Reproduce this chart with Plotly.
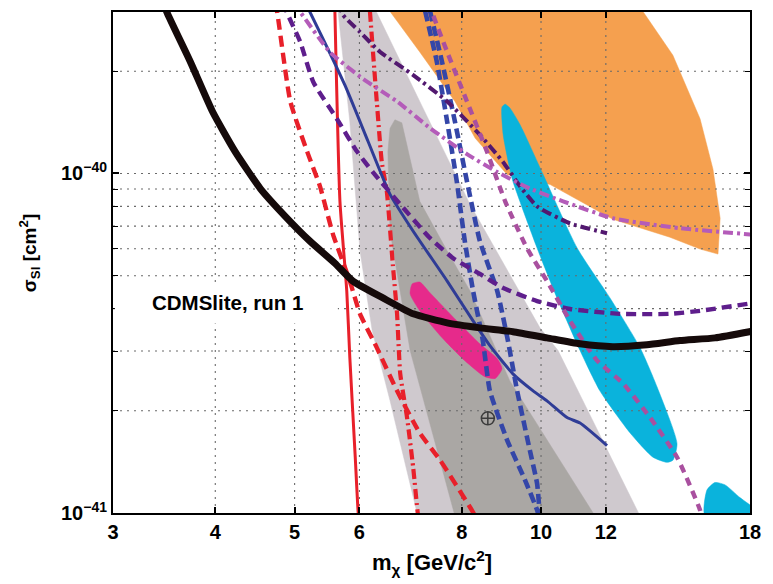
import numpy as np
import plotly.graph_objects as go

FONT = "Liberation Sans"

# ---------------- axis ticks ----------------
x_tickvals = [3, 4, 5, 6, 8, 10, 12, 18]
x_ticktext = ["3", "4", "5", "6", "8", "10", "12", "18"]
x_gridvals = [4, 5, 6, 8, 10, 12]
y_tickvals = [1e-41, 1e-40]
y_ticktext = ["10<sup>\u221241</sup>", "10<sup>\u221240</sup>"]
y_minorvals = [2e-41, 3e-41, 4e-41, 5e-41, 6e-41, 7e-41, 8e-41, 9e-41, 2e-40]
y_gridvals = [2e-41, 3e-41, 4e-41, 5e-41, 6e-41, 7e-41, 8e-41, 9e-41, 1e-40, 2e-40]
x_range = [3, 18]
y_range = [1e-41, 2.99e-40]

# ---------------- regions (mass GeV/c^2, sigma cm^2) ----------------
si95_m = [5.65, 6.29, 7.11, 8.19, 9.97, 10.49, 13.21, 7.07, 6.54, 6.22, 6.01, 5.84, 5.65]
si95_s = [30e-41, 30e-41, 16.3e-41, 8.11e-41, 3.51e-41, 3.01e-41, 0.98e-41, 0.98e-41,
          2.14e-41, 3.44e-41, 5.91e-41, 14.2e-41, 30e-41]

si68_m = [6.63, 6.76, 7.11, 7.68, 8.19, 9.16, 11.64, 7.85, 6.92, 6.54, 6.50, 6.54, 6.63]
si68_s = [14.4e-41, 14.1e-41, 8.28e-41, 5.91e-41, 4.51e-41, 2.45e-41, 0.98e-41, 0.98e-41,
          3.01e-41, 6.76e-41, 11.6e-41, 13.6e-41, 14.4e-41]

dama_m = [6.54, 13.32, 14.49, 15.64, 16.22, 16.55, 16.45, 15.64, 14.37, 12.24, 10.26, 9.09,
          8.31, 7.85, 7.11, 6.54]
dama_s = [30e-41, 30e-41, 22.3e-41, 14.5e-41, 10.3e-41, 7.38e-41, 5.79e-41, 5.99e-41, 6.49e-41,
          7.33e-41, 9.28e-41, 9.93e-41, 12.7e-41, 16.3e-41, 22.8e-41, 30e-41]

cresst_m = [8.96, 9.04, 9.16, 9.43, 10.06, 11.07, 12.14, 13.21, 13.86, 14.66,
            14.49, 14.25, 13.70, 12.85, 11.80, 11.16, 10.46, 9.89, 9.24, 9.16, 8.99, 8.96]
cresst_s = [15.7e-41, 16.0e-41, 15.6e-41, 13.9e-41, 9.93e-41, 6.03e-41, 4.30e-41,
            3.07e-41, 2.35e-41, 1.60e-41, 1.43e-41, 1.41e-41, 1.46e-41, 1.72e-41,
            2.29e-41, 3.01e-41, 4.30e-41, 6.03e-41, 9.47e-41, 10.3e-41, 13.0e-41, 15.7e-41]

cresst2_m = [15.86, 15.95, 16.31, 16.78, 17.50, 18.3, 18.3, 15.86]
cresst2_s = [0.98e-41, 1.17e-41, 1.23e-41, 1.21e-41, 1.11e-41, 1.02e-41, 0.98e-41, 0.98e-41]

cogent_m = [6.96, 7.11, 7.32, 7.85, 8.42, 8.84, 8.96, 8.79, 8.54, 8.07, 7.53, 7.11, 6.92, 6.96]
cogent_s = [4.73e-41, 4.79e-41, 4.45e-41, 3.73e-41, 3.15e-41, 2.85e-41, 2.66e-41, 2.49e-41,
            2.52e-41, 2.81e-41, 3.33e-41, 3.94e-41, 4.42e-41, 4.73e-41]

best_fit_m = [8.61]
best_fit_s = [1.90e-41]

# ---------------- limit curves ----------------
cdmslite_m = [3.46, 3.49, 3.73, 3.97, 4.23, 4.54, 4.87, 5.22, 5.60, 5.89, 6.41, 6.98, 7.68,
              8.42, 9.24, 10.17, 11.16, 12.24, 13.47, 14.78, 16.31, 18.2]
cdmslite_s = [31.9e-41, 29.9e-41, 21.3e-41, 15.2e-41, 11.6e-41, 9.03e-41, 7.48e-41, 6.32e-41,
              5.44e-41, 4.82e-41, 4.30e-41, 3.86e-41, 3.63e-41, 3.51e-41, 3.42e-41, 3.28e-41,
              3.15e-41, 3.09e-41, 3.13e-41, 3.22e-41, 3.28e-41, 3.44e-41]

red_solid_m = [5.60, 5.68, 5.79, 5.84, 5.93, 5.98, 6.00]
red_solid_s = [30e-41, 8.28e-41, 4.51e-41, 2.87e-41, 1.46e-41, 1.0e-41, 0.95e-41]

red_dash_m = [4.73, 4.76, 4.94, 5.18, 5.37, 5.57, 5.84, 6.01, 6.30, 6.67, 7.11, 7.53, 8.19, 8.31]
red_dash_s = [31.9e-41, 29.9e-41, 16.3e-41, 11.6e-41, 9.16e-41, 6.62e-41, 4.82e-41, 3.86e-41,
              3.07e-41, 2.29e-41, 1.72e-41, 1.43e-41, 1.04e-41, 0.98e-41]

red_dashdot_m = [6.18, 6.30, 6.39, 6.48, 6.59, 6.67, 6.73, 6.86, 6.98, 7.07, 7.09]
red_dashdot_s = [30e-41, 16.3e-41, 10.8e-41, 8.86e-41, 5.41e-41, 3.86e-41, 2.57e-41, 1.91e-41,
                 1.36e-41, 1.0e-41, 0.97e-41]

blue_solid_m = [5.15, 5.22, 5.76, 6.15, 6.54, 6.98, 7.68, 8.26, 8.66, 9.24, 9.78, 10.17, 10.76,
                11.16, 12.04]
blue_solid_s = [31.9e-41, 29.9e-41, 18.2e-41, 12.4e-41, 8.68e-41, 6.76e-41, 4.82e-41, 3.68e-41,
                3.11e-41, 2.57e-41, 2.29e-41, 2.14e-41, 1.91e-41, 1.84e-41, 1.58e-41]

blue_dashA_m = [7.22, 7.46, 7.68, 7.89, 8.07, 8.26, 8.49, 8.66, 9.09, 9.56, 9.89, 9.97]
blue_dashA_s = [30e-41, 21.3e-41, 14.2e-41, 9.47e-41, 6.32e-41, 4.51e-41, 3.22e-41, 2.29e-41,
                1.64e-41, 1.25e-41, 1.02e-41, 0.95e-41]

blue_dashB_m = [7.32, 7.57, 7.85, 8.12, 8.42, 8.84, 9.11, 9.35, 9.69, 9.89, 9.97]
blue_dashB_s = [30e-41, 21.3e-41, 14.2e-41, 9.47e-41, 6.32e-41, 4.51e-41, 3.22e-41, 2.29e-41,
                1.53e-41, 1.22e-41, 0.97e-41]

purple_dash_m = [4.85, 4.89, 5.08, 5.27, 5.63, 5.96, 6.23, 6.73, 7.32, 7.81, 8.42, 8.99, 9.89,
                 10.85, 12.49, 14.37, 15.64, 18.2]
purple_dash_s = [31.9e-41, 29.9e-41, 24.4e-41, 18.6e-41, 14.5e-41, 11.6e-41, 10.1e-41, 8.11e-41,
                 6.45e-41, 5.63e-41, 5.06e-41, 4.60e-41, 4.21e-41, 3.99e-41, 3.86e-41, 3.86e-41,
                 3.94e-41, 4.16e-41]

purple_dashdot_m = [5.65, 5.73, 6.01, 6.36, 6.98, 7.68, 8.42, 8.99, 9.43, 9.89, 10.85, 12.04]
purple_dashdot_s = [31.9e-41, 29.3e-41, 26.1e-41, 22.8e-41, 19.5e-41, 16.3e-41, 13.0e-41,
                    10.8e-41, 9.16e-41, 8.00e-41, 7.13e-41, 6.67e-41]

mag_dashdot_m = [4.98, 5.08, 5.52, 6.06, 6.67, 7.32, 8.12, 8.84, 9.69, 10.64, 12.24, 14.78, 18.2]
mag_dashdot_s = [31.9e-41, 29.9e-41, 22.8e-41, 19.0e-41, 16.3e-41, 13.6e-41, 11.4e-41, 10.1e-41,
                 9.03e-41, 8.28e-41, 7.38e-41, 6.90e-41, 6.60e-41]

mag_dash_m = [7.32, 7.36, 7.68, 8.12, 8.59, 9.04, 9.61, 10.17, 10.85, 11.71, 12.59, 13.59, 14.66,
              15.64, 15.7]
mag_dash_s = [31.9e-41, 29.9e-41, 22.8e-41, 16.3e-41, 11.6e-41, 8.28e-41, 6.03e-41, 4.82e-41,
              3.68e-41, 2.81e-41, 2.41e-41, 1.91e-41, 1.46e-41, 1.02e-41, 0.97e-41]

label_text = "CDMSlite, run 1"

fig = go.Figure()


def region(m, s, color, smooth=False):
    fig.add_trace(go.Scatter(
        x=m, y=s, mode="lines", fill="toself", fillcolor=color,
        line=dict(color=color, width=0.5, shape="spline" if smooth else "linear",
                  smoothing=0.6),
        hoverinfo="skip", showlegend=False))


def curve(m, s, color, width, dash="solid"):
    fig.add_trace(go.Scatter(
        x=m, y=s, mode="lines", line=dict(color=color, width=width, dash=dash, shape="spline",
                                          smoothing=0.5),
        hoverinfo="skip", showlegend=False))


region(si95_m, si95_s, "#cfc9ce")
region(si68_m, si68_s, "#aaa7a4")
region(dama_m, dama_s, "#f5a04f")
region(cresst_m, cresst_s, "#0ab3dc", smooth=True)
region(cresst2_m, cresst2_s, "#0ab3dc", smooth=True)
region(cogent_m, cogent_s, "#e62a8b", smooth=True)

# dotted grid (drawn over the filled regions)
GRID = dict(color="#6a6a6a", width=1.1, dash="2px,5px")
for gx in x_gridvals:
    fig.add_trace(go.Scatter(x=[gx, gx], y=y_range, mode="lines", line=GRID,
                             hoverinfo="skip", showlegend=False))
for gy in y_gridvals:
    fig.add_trace(go.Scatter(x=x_range, y=[gy, gy], mode="lines", line=GRID,
                             hoverinfo="skip", showlegend=False))

curve(red_solid_m, red_solid_s, "#e8202a", 3)
curve(red_dash_m, red_dash_s, "#e8202a", 4.4, "11px,6px")
curve(red_dashdot_m, red_dashdot_s, "#e8202a", 4.2, "10px,4px,2px,4px")
curve(blue_solid_m, blue_solid_s, "#2f3c96", 3)
curve(blue_dashA_m, blue_dashA_s, "#3446a8", 4.6, "10px,5px")
curve(blue_dashB_m, blue_dashB_s, "#3446a8", 4.6, "10px,5px")
curve(purple_dash_m, purple_dash_s, "#5e1e8c", 4.4, "10px,6px")
curve(purple_dashdot_m, purple_dashdot_s, "#52186f", 4, "10px,4px,3px,4px")
curve(mag_dashdot_m, mag_dashdot_s, "#b45cb9", 4, "10px,4px,3px,4px")
curve(mag_dash_m, mag_dash_s, "#a9509f", 4.4, "8px,6px")
curve(cdmslite_m, cdmslite_s, "#150a0a", 7)

fig.add_trace(go.Scatter(x=best_fit_m, y=best_fit_s, mode="markers",
                         marker=dict(symbol="circle-cross-open", size=13,
                                     color="#3c3c3c", line=dict(width=1.5, color="#3c3c3c")),
                         hoverinfo="skip", showlegend=False))

TICKFONT = dict(family=FONT, size=20, color="black", weight="bold")

fig.update_xaxes(type="log", range=[np.log10(x_range[0]), np.log10(x_range[1])],
                 tickvals=x_tickvals, ticktext=x_ticktext, ticks="inside", ticklen=6,
                 tickwidth=1.5, tickcolor="black", showline=True, linecolor="black",
                 linewidth=2, mirror="ticks", showgrid=False, zeroline=False,
                 tickfont=TICKFONT, layer="above traces")
fig.update_yaxes(type="log", range=[np.log10(y_range[0]), np.log10(y_range[1])],
                 tickvals=y_tickvals, ticktext=y_ticktext, ticks="inside", ticklen=6,
                 tickwidth=1.5, tickcolor="black", showline=True, linecolor="black",
                 linewidth=2, mirror="ticks", showgrid=False, zeroline=False,
                 tickfont=TICKFONT, layer="above traces",
                 minor=dict(tickmode="array", tickvals=y_minorvals, ticks="inside",
                            ticklen=5, tickwidth=1.2, tickcolor="black", showgrid=False))

fig.update_layout(
    width=773, height=584,
    margin=dict(l=113, r=23, t=10, b=71),
    plot_bgcolor="white", paper_bgcolor="white",
    font=dict(family=FONT, color="black"),
    shapes=[dict(type="rect", xref="paper", yref="paper", x0=0.003, x1=0.353,
                 y0=0.378, y1=0.453, fillcolor="white", line=dict(width=0), layer="above")],
    annotations=[
        dict(text=label_text, xref="paper", yref="paper", x=0.1805, y=0.4195,
             showarrow=False, font=dict(family=FONT, size=20.5, color="black", weight="bold"),
             xanchor="center", yanchor="middle"),
        dict(text="m<sub>\u03c7</sub> [GeV/c<sup>2</sup>]", xref="paper", yref="paper",
             x=0.5, y=-0.098, showarrow=False,
             font=dict(family=FONT, size=22, color="black", weight="bold"),
             xanchor="center", yanchor="middle"),
        dict(text="\u03c3<sub>SI</sub> [cm<sup>2</sup>]", xref="paper", yref="paper",
             x=-0.130, y=0.519, showarrow=False, textangle=-90,
             font=dict(family=FONT, size=19, color="black", weight="bold"),
             xanchor="center", yanchor="middle"),
    ],
)

fig.write_html("out.html")
